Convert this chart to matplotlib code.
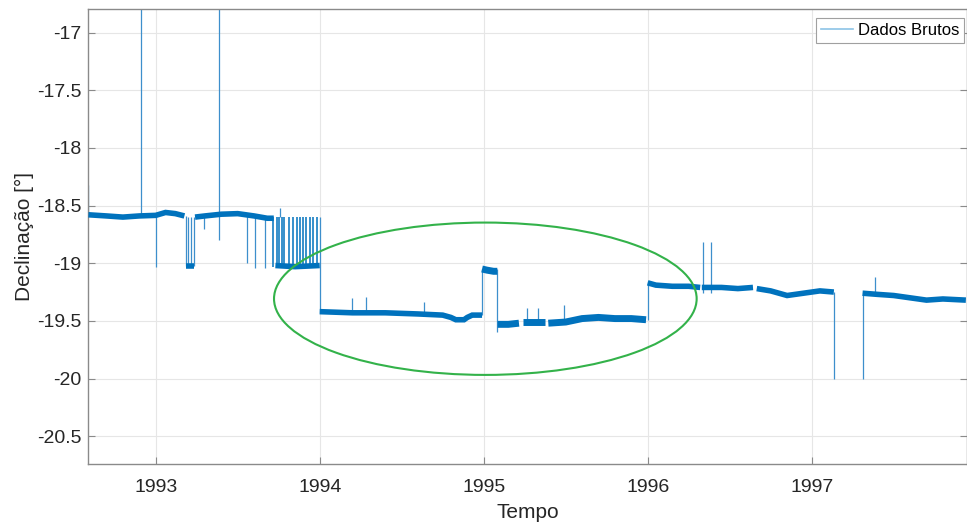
"""Declinação: dados brutos 1992-1997 com a região destacada."""

import matplotlib

matplotlib.use("Agg")
import matplotlib.pyplot as plt
from matplotlib.lines import Line2D
from matplotlib.patches import Ellipse
from matplotlib.ticker import FuncFormatter, MultipleLocator

# --- data (decimal year, degrees) --------------------------------------------
seg_a1_t = [1992.59, 1992.70, 1992.80, 1992.90, 1993.00, 1993.06, 1993.12, 1993.175]
seg_a1_v = [-18.58, -18.59, -18.60, -18.59, -18.585, -18.56, -18.57, -18.59]

seg_a_low_t = [1993.185, 1993.233]
seg_a_low_v = [-19.02, -19.02]

seg_a2_t = [1993.24, 1993.30, 1993.40, 1993.50, 1993.60, 1993.68, 1993.72]
seg_a2_v = [-18.60, -18.59, -18.575, -18.57, -18.59, -18.61, -18.61]

seg_sw_t = [1993.73, 1993.85, 1994.0]
seg_sw_v = [-19.02, -19.03, -19.02]

seg_b_t = [1994.0, 1994.2, 1994.4, 1994.6, 1994.75, 1994.80, 1994.83, 1994.88, 1994.90, 1994.93, 1994.99]
seg_b_v = [-19.42, -19.43, -19.43, -19.44, -19.45, -19.47, -19.49, -19.49, -19.47, -19.45, -19.45]

seg_hump_t = [1994.99, 1995.02, 1995.06, 1995.083]
seg_hump_v = [-19.05, -19.06, -19.07, -19.07]

seg_c1_t = [1995.085, 1995.15, 1995.215]
seg_c1_v = [-19.53, -19.53, -19.52]

seg_c2_t = [1995.238, 1995.30, 1995.374]
seg_c2_v = [-19.51, -19.51, -19.51]

seg_c3_t = [1995.394, 1995.5, 1995.6, 1995.7, 1995.8, 1995.9, 1995.99]
seg_c3_v = [-19.52, -19.51, -19.48, -19.47, -19.48, -19.48, -19.49]

seg_d1_t = [1996.0, 1996.05, 1996.15, 1996.25, 1996.32]
seg_d1_v = [-19.17, -19.19, -19.20, -19.20, -19.21]

seg_d2_t = [1996.33, 1996.45, 1996.55, 1996.642]
seg_d2_v = [-19.21, -19.21, -19.22, -19.21]

seg_d3_t = [1996.665, 1996.75, 1996.85, 1996.95, 1997.05, 1997.135]
seg_d3_v = [-19.22, -19.24, -19.28, -19.26, -19.24, -19.25]

seg_e_t = [1997.31, 1997.4, 1997.5, 1997.6, 1997.7, 1997.8, 1997.94]
seg_e_v = [-19.26, -19.27, -19.28, -19.30, -19.32, -19.31, -19.32]

# thin excursions: time, from, to
spike_t = [1992.59, 1992.91, 1993.00, 1993.295, 1993.386, 1993.557, 1993.605,
           1993.667, 1993.758, 1993.185, 1993.20, 1993.215, 1993.233, 1994.0,
           1994.20, 1994.28, 1994.636, 1994.99, 1995.083, 1995.265, 1995.33,
           1995.49, 1996.0, 1996.335, 1996.384, 1997.135, 1997.31, 1997.386]
spike_from = [-18.58, -18.59, -18.59, -18.59, -18.80, -18.59, -18.60,
              -18.60, -18.60, -18.59, -18.60, -18.60, -18.60, -18.60,
              -19.43, -19.43, -19.44, -19.45, -19.05, -19.51, -19.51,
              -19.51, -19.49, -19.26, -19.26, -19.25, -20.0, -19.28]
spike_to = [-18.32, -16.5, -19.03, -18.70, -16.5, -19.00, -19.04,
            -19.04, -18.52, -19.02, -19.02, -19.02, -19.02, -19.43,
            -19.30, -19.29, -19.34, -19.05, -19.60, -19.39, -19.39,
            -19.36, -19.15, -18.82, -18.82, -20.0, -19.26, -19.12]

# rapid switching between the two levels before 1994
switch_t = [1993.717, 1993.738, 1993.754, 1993.768, 1993.782, 1993.815, 1993.839,
            1993.864, 1993.880, 1993.896, 1993.917, 1993.941, 1993.961, 1993.985]
switch_hi = -18.60
switch_lo = -19.03

# highlighted region (ellipse): centre, width, height
ell_center = (1995.01, -19.308)
ell_width = 2.577
ell_height = 1.321

x_ticks = [1993, 1994, 1995, 1996, 1997]

BLUE = "#0072BD"
SPIKE = "#3d8fcc"

plt.rcParams["font.family"] = ["Liberation Sans", "DejaVu Sans"]
plt.rcParams["axes.unicode_minus"] = False

fig = plt.figure(figsize=(9.67, 5.25), dpi=100)
ax = fig.add_axes([0.0913, 0.1162, 0.9082, 0.867])

bands = [
    (seg_a1_t, seg_a1_v), (seg_a_low_t, seg_a_low_v), (seg_a2_t, seg_a2_v),
    (seg_sw_t, seg_sw_v), (seg_b_t, seg_b_v), (seg_hump_t, seg_hump_v),
    (seg_c1_t, seg_c1_v), (seg_c2_t, seg_c2_v), (seg_c3_t, seg_c3_v),
    (seg_d1_t, seg_d1_v), (seg_d2_t, seg_d2_v), (seg_d3_t, seg_d3_v),
    (seg_e_t, seg_e_v),
]
for i, (t, v) in enumerate(bands):
    lw = 5.0 if i in (5, 6, 7, 8) else 4.0
    ax.plot(t, v, color=BLUE, lw=lw, solid_capstyle="butt",
            solid_joinstyle="miter", zorder=3)

ax.vlines(spike_t, spike_from, spike_to, color=SPIKE, lw=0.9, zorder=2)
ax.vlines(switch_t, switch_lo, switch_hi, color=BLUE, lw=1.1, zorder=2)

ax.add_patch(Ellipse(ell_center, ell_width, ell_height, fill=False,
                     edgecolor="#33b24a", lw=1.5, zorder=4))

ax.set_xlim(1992.589, 1997.944)
ax.set_ylim(-20.741, -16.794)
ax.set_xticks(x_ticks)
ax.yaxis.set_major_locator(MultipleLocator(0.5))
ax.yaxis.set_major_formatter(FuncFormatter(lambda v, _: f"{v:g}"))

ax.grid(True, color="#e6e6e6", lw=0.8)
ax.set_axisbelow(True)
for s in ax.spines.values():
    s.set_color("#8a8a8a")
    s.set_linewidth(1.0)
ax.tick_params(direction="in", length=5, color="#8a8a8a", labelsize=14,
               labelcolor="#262626", right=True, top=False)
ax.tick_params(axis="x", pad=11)
ax.tick_params(axis="y", pad=5)

ax.set_xlabel("Tempo", fontsize=15, color="#262626", labelpad=5)
ax.set_ylabel("Declinação [°]", fontsize=15, color="#262626", labelpad=2)

handle = Line2D([], [], color="#8cc3e6", lw=1.2)
leg = ax.legend([handle], ["Dados Brutos"], loc="upper right", fontsize=12,
                bbox_to_anchor=(964 / 967, 1 - 18 / 525),
                bbox_transform=fig.transFigure, borderaxespad=0,
                frameon=True, fancybox=False, framealpha=1,
                handlelength=1.9, handletextpad=0.3, borderpad=0.3)
leg.get_frame().set_edgecolor("#a0a0a0")
leg.get_frame().set_linewidth(0.8)

fig.savefig("out.png", dpi=100)
